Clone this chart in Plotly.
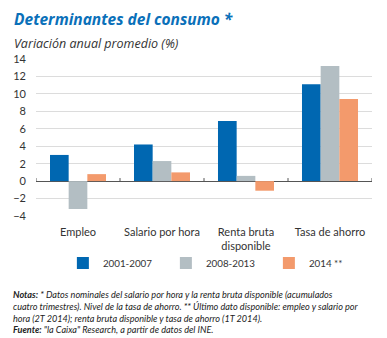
import plotly.graph_objects as go

categories = ["Empleo", "Salario por hora", "Renta bruta<br>disponible", "Tasa de ahorro"]
series_names = ["2001-2007", "2008-2013", "2014 **"]
v_2001_2007 = [3.0, 4.2, 6.9, 11.1]
v_2008_2013 = [-3.2, 2.3, 0.6, 13.2]
v_2014 = [0.8, 1.0, -1.1, 9.4]
y_ticks = [-4, -2, 0, 2, 4, 6, 8, 10, 12, 14]

colors = ["#0067b1", "#b3bec3", "#f39a6c"]
FONT = "Open Sans"
NARROW = "Lato"

fig = go.Figure()
for name, vals, c in zip(series_names, [v_2001_2007, v_2008_2013, v_2014], colors):
    fig.add_trace(go.Bar(x=list(range(len(categories))), y=vals, name=name,
                         marker=dict(color=c, line=dict(width=0))))

# small separator ticks on zero line
for i in range(len(categories) + 1):
    fig.add_shape(type="line", xref="x", yref="y", x0=i - 0.5, x1=i - 0.5, y0=0, y1=0.35,
                  line=dict(color="#555555", width=1))

fig.update_layout(
    width=387, height=338,
    margin=dict(l=36, r=15, t=59, b=122, autoexpand=False),
    paper_bgcolor="white", plot_bgcolor="white",
    barmode="group", bargap=0.333, bargroupgap=0,
    font=dict(family=FONT, size=10, color="#333333"),
    showlegend=True,
    legend=dict(orientation="h", x=0.08, xanchor="left",
                y=-0.3, yanchor="middle", bgcolor="rgba(0,0,0,0)",
                entrywidth=58, itemwidth=30, font=dict(family=NARROW, size=9.8, color="#333333"),
                traceorder="normal"),
    xaxis=dict(range=[-0.5, 3.5], tickvals=list(range(len(categories))), ticktext=categories,
               showgrid=False, ticks="", zeroline=False, showline=False, ticklabelstandoff=8,
               tickangle=0,
               tickfont=dict(family=NARROW, size=11, color="#333333")),
    yaxis=dict(range=[-4, 14], tickvals=y_ticks, showgrid=True, gridcolor="#dcdcdc", gridwidth=1,
               zeroline=True, zerolinecolor="#555555", zerolinewidth=1, ticks="",
               ticklabelstandoff=9,
               tickfont=dict(family=NARROW, size=11, color="#333333")),
)

fig.add_annotation(xref="paper", yref="paper", x=-0.07, xanchor="left", y=1.0, yanchor="bottom",
                   yshift=27, text="<b><i>Determinantes del consumo *</i></b>", showarrow=False,
                   font=dict(family=FONT, size=15.5, color="#0a70b9"))
fig.add_annotation(xref="paper", yref="paper", x=-0.07, xanchor="left", y=1.0, yanchor="bottom",
                   yshift=5, text="<i>Variación anual promedio (%)</i>", showarrow=False,
                   font=dict(family=FONT, size=12.5, color="#333333"))

notes = ("<b>Notas:</b> * Datos nominales del salario por hora y la renta bruta disponible (acumulados<br>"
         "cuatro trimestres). Nivel de la tasa de ahorro. ** Último dato disponible: empleo y salario por<br>"
         "hora (2T 2014); renta bruta disponible y tasa de ahorro (1T 2014).<br>"
         "<b>Fuente:</b> \"la Caixa\" Research, a partir de datos del INE.")
fig.add_annotation(xref="paper", yref="paper", x=-0.075, xanchor="left", y=0, yanchor="top",
                   yshift=-71, text="<i>" + notes + "</i>", showarrow=False, align="left",
                   font=dict(family=NARROW, size=9.1, color="#222222"))

fig.write_html("out.html")
